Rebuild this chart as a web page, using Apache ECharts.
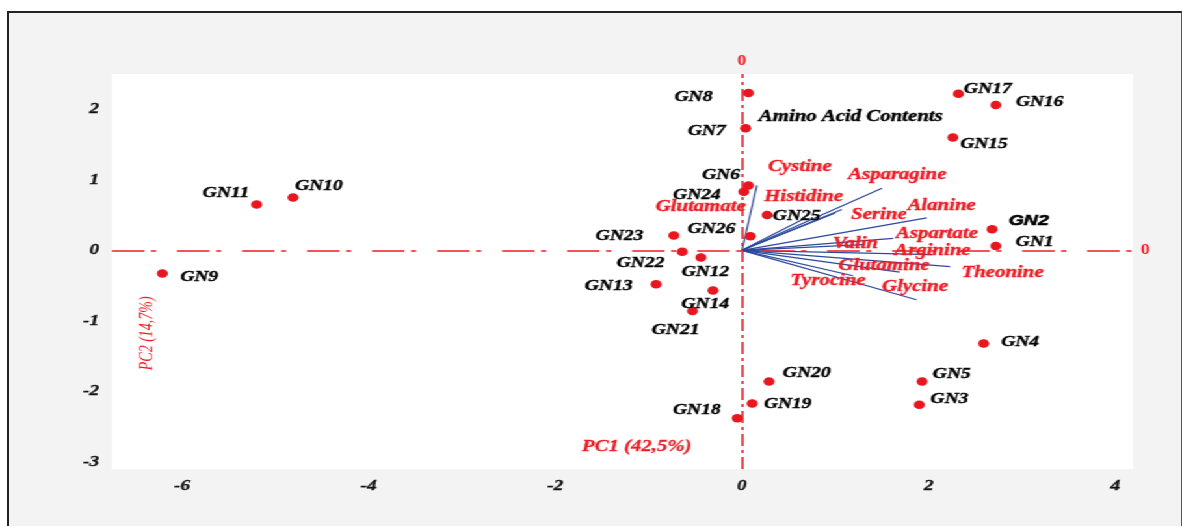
<!DOCTYPE html>
<html>
<head>
<meta charset="utf-8">
<script src="https://cdn.jsdelivr.net/npm/echarts@6/dist/echarts.min.js"></script>
<style>
  html, body { margin: 0; padding: 0; background: #ffffff; overflow: hidden; }
  #frame {
    position: absolute; left: 7px; top: 11px; width: 1172px; height: 520px;
    background: #f2f3f2; border-left: 2px solid #222; border-top: 2px solid #222; border-right: 1px solid #555;
  }
  #chart {
    position: absolute; left: 0; top: 0; width: 909px; height: 526px;
    transform-origin: 0 0;
  }
</style>
</head>
<body>
<div id="frame"></div>
<div id="chart"></div>
<script>
// PCA biplot of amino acid contents in 26 genotypes (scores + loadings)

const genotypes = ['GN1','GN2','GN3','GN4','GN5','GN6','GN7','GN8','GN9','GN10','GN11','GN12','GN13',
                   'GN14','GN15','GN16','GN17','GN18','GN19','GN20','GN21','GN22','GN23','GN24','GN25','GN26'];
const pc1Scores = [2.72, 2.68, 1.90, 2.59, 1.93, 0.07, 0.04, 0.07, -6.21, -4.81, -5.20, -0.44, -0.92,
                   -0.31, 2.26, 2.72, 2.32, -0.05, 0.11, 0.29, -0.53, -0.64, -0.73, 0.02, 0.27, 0.09];
const pc2Scores = [0.06, 0.30, -2.19, -1.32, -1.86, 0.92, 1.73, 2.23, -0.33, 0.75, 0.65, -0.10, -0.48,
                   -0.57, 1.60, 2.06, 2.22, -2.38, -2.17, -1.86, -0.86, -0.02, 0.21, 0.83, 0.50, 0.20];

const aminoAcids = ['Cystine','Asparagine','Histidine','Glutamate','Serine','Alanine','Aspartate',
                    'Valin','Arginine','Theonine','Glutamine','Tyrocine','Glycine'];
const pc1Loadings = [0.16, 1.50, 0.68, 1.00, 1.07, 1.98, 1.62, 1.30, 2.04, 2.23, 1.69, 1.19, 1.87];
const pc2Loadings = [0.92, 0.88, 0.46, 0.53, 0.58, 0.46, 0.17, 0.08, -0.06, -0.23, -0.31, -0.36, -0.70];

const xTicks = [-6, -4, -2, 0, 2, 4];
const yTicks = [-3, -2, -1, 0, 1, 2];

const xTitle = 'PC1 (42,5%)';
const yTitle = 'PC2 (14,7%)';
const plotNote = 'Amino Acid Contents';

// The drawing is laid out narrow and widened on screen
const PAGE_W = 1182, CHART_W = 909;
const STRETCH = PAGE_W / CHART_W;
document.getElementById('chart').style.transform = 'scaleX(' + STRETCH + ')';

// label shifts in screen pixels from each point
const genoShift = {
  GN1: [38.8, -4], GN2: [36.6, -8], GN3: [30.2, -5.4], GN4: [36.4, -1.4], GN5: [29.6, -7.7],
  GN6: [-27.5, -10.7], GN7: [-39, 3], GN8: [-55, 4], GN9: [36.9, 3.6], GN10: [25.9, -11.3],
  GN11: [-30.7, -11.7], GN12: [4.5, 14.4], GN13: [-47.4, 1.7], GN14: [-7.8, 14], GN15: [31.1, 6.3],
  GN16: [43.8, -3], GN17: [29.3, -4.3], GN18: [-40.5, -7.6], GN19: [35.5, 0.7], GN20: [37.7, -8.4],
  GN21: [-16.9, 19], GN22: [-41.7, 11.3], GN23: [-54.3, 1], GN24: [-47, 3], GN25: [29.5, 1.4],
  GN26: [-39, -6.7]
};
const acidShift = {
  Cystine: [43, -18.3], Asparagine: [15.3, -13.4], Histidine: [-1.8, -20.8], Glutamate: [-134.5, -6.4],
  Serine: [37.1, 5.7], Alanine: [14.9, -12.4], Aspartate: [43.8, -4.2], Valin: [-7.8, -0.4],
  Arginine: [0.1, -4], Theonine: [52.4, 6.6], Glutamine: [-15.7, -6.6], Tyrocine: [-25.1, 5],
  Glycine: [-1.5, -13.2]
};
const toChart = s => [s[0] / STRETCH, s[1]];

const SERIF = "'Liberation Serif', 'Times New Roman', serif";
const SANS = "'Liberation Sans', Arial, sans-serif";
const RED = '#ec1c24';
const BLUE = '#2c4a9e';
const INK = '#000000';

const genoData = genotypes.map((g, i) => ({
  name: g,
  value: [pc1Scores[i], pc2Scores[i]],
  label: g === 'GN2'
    ? { offset: toChart(genoShift[g]), fontFamily: SANS, fontSize: 15, textBorderWidth: 0.6 }
    : { offset: toChart(genoShift[g]) }
}));

const loadingLines = aminoAcids.map((a, i) => ({
  coords: [[0, 0], [pc1Loadings[i], pc2Loadings[i]]]
}));

const loadingTips = aminoAcids.map((a, i) => ({
  name: a,
  value: [pc1Loadings[i], pc2Loadings[i]],
  label: { offset: toChart(acidShift[a]) }
}));

const gridLeft = 112 / STRETCH;
const gridWidth = (1133 - 112) / STRETCH;

const tickFont = {
  fontFamily: SERIF, fontStyle: 'italic', fontWeight: 'bold', fontSize: 15, color: '#111',
  textBorderColor: '#111', textBorderWidth: 0.3
};

const chart = echarts.init(document.getElementById('chart'), null, { renderer: 'canvas' });
chart.setOption({
  animation: false,
  backgroundColor: 'transparent',
  grid: {
    left: gridLeft, right: CHART_W - gridLeft - gridWidth, top: 74, bottom: 57,
    show: true, backgroundColor: '#ffffff', borderWidth: 0
  },
  xAxis: {
    type: 'value', min: -6.75, max: 4.19,
    axisLine: { show: false },
    splitLine: { show: false },
    axisTick: { show: true, length: 6, lineStyle: { color: '#ffffff', width: 1.6 }, customValues: xTicks },
    axisLabel: Object.assign({ customValues: xTicks, margin: 10 }, tickFont)
  },
  yAxis: {
    type: 'value', min: -3.1, max: 2.5,
    axisLine: { show: false },
    splitLine: { show: false },
    axisTick: { show: true, length: 7.7, lineStyle: { color: '#ffffff', width: 2 }, customValues: yTicks },
    axisLabel: Object.assign({ customValues: yTicks, margin: 10 }, tickFont)
  },
  graphic: [
    {
      type: 'text', x: 850.8 / STRETCH, y: 117.3, z: 10,
      style: { text: plotNote, align: 'center', verticalAlign: 'middle',
               font: "italic bold 16px 'Liberation Serif', 'Times New Roman', serif",
               fill: INK, stroke: INK, lineWidth: 0.4 }
    },
    {
      type: 'text', x: 636.7 / STRETCH, y: 446.7, z: 10,
      style: { text: xTitle, align: 'center', verticalAlign: 'middle',
               font: "italic bold 16px 'Liberation Serif', 'Times New Roman', serif",
               fill: RED, stroke: RED, lineWidth: 0.3 }
    },
    {
      type: 'text', x: 146.7 / STRETCH, y: 333.3, rotation: Math.PI / 2, z: 10,
      style: { text: yTitle, align: 'center', verticalAlign: 'middle',
               font: "italic 14px 'Liberation Serif', 'Times New Roman', serif", fill: RED }
    }
  ],
  series: [
    {
      type: 'lines',
      coordinateSystem: 'cartesian2d',
      polyline: false,
      silent: true,
      z: 3,
      lineStyle: { color: BLUE, width: 1.2, opacity: 1 },
      data: loadingLines
    },
    {
      type: 'scatter',
      silent: true,
      symbolSize: 1,
      z: 4,
      itemStyle: { color: 'transparent' },
      label: {
        show: true, position: 'inside', formatter: '{b}', opacity: 1,
        fontFamily: SERIF, fontStyle: 'italic', fontWeight: 'bold', fontSize: 16, color: RED,
        textBorderColor: RED, textBorderWidth: 0.4
      },
      data: loadingTips
    },
    {
      type: 'scatter',
      symbol: 'circle',
      symbolSize: 8.5,
      z: 5,
      itemStyle: { color: '#e8161f', opacity: 1 },
      label: {
        show: true, position: 'inside', formatter: '{b}', opacity: 1,
        fontFamily: SERIF, fontSize: 15,
        fontStyle: 'italic', fontWeight: 'bold', color: INK,
        textBorderColor: INK, textBorderWidth: 0.4
      },
      data: genoData,
      markLine: {
        silent: true,
        symbol: ['none', 'none'],
        label: {
          show: true, position: 'end', formatter: '0', distance: 6,
          fontFamily: SERIF, fontWeight: 'bold', fontSize: 14, color: RED
        },
        data: [
          { xAxis: 0, lineStyle: { color: RED, width: 1.6, opacity: 1, type: [12, 4, 3, 4] } },
          { yAxis: 0, lineStyle: { color: RED, width: 1.5, opacity: 1, type: [25, 5, 4, 16] } }
        ]
      }
    }
  ]
});
</script>
</body>
</html>
